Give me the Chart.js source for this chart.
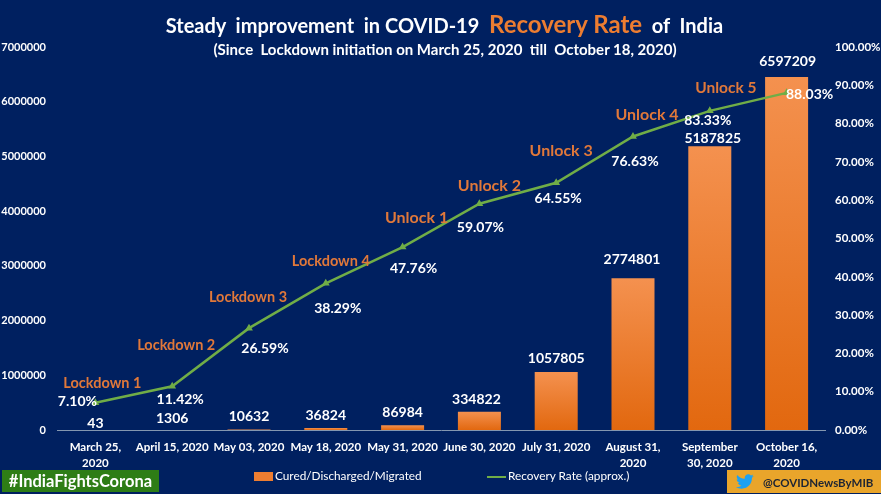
<!DOCTYPE html>
<html>
<head>
<meta charset="utf-8">
<title>Recovery Rate of India</title>
<script src="https://cdn.jsdelivr.net/npm/chart.js@4"></script>
<style>
  html, body { margin: 0; padding: 0; background: #fff; }
  #frame { position: relative; width: 881px; height: 494px; background: #002060; overflow: hidden; font-family: Lato, sans-serif; }
  #chart { position: absolute; left: 0; top: 0; }
  .title { position: absolute; left: 0; width: 889px; top: 9px; text-align: center; color: #fff; font-weight: bold; font-size: 20px; line-height: 30px; white-space: pre; }
  .title span { color: #ED7D31; font-size: 24px; }
  .subtitle { position: absolute; left: 0; width: 890px; top: 40px; text-align: center; color: #fff; font-weight: bold; font-size: 15px; line-height: 18px; white-space: pre; }
  .tag { position: absolute; left: 2px; top: 470px; width: 157px; height: 22px; background: #2E7D16; color: #fff; font-weight: bold; font-size: 16.5px; line-height: 22px; text-align: center; }
  .handle { position: absolute; left: 727px; top: 470px; width: 154px; height: 23px; background: #E9A52B; color: #1d2433; font-weight: bold; font-size: 11.5px; line-height: 25px; padding-left: 36px; box-sizing: border-box; }
  .handle svg { position: absolute; left: 8px; top: 2px; }
  #legend span { position: absolute; top: 468px; color: #fff; font-size: 11.8px; line-height: 16px; white-space: nowrap; }
  #legend i { position: absolute; display: block; }
</style>
</head>
<body>
<div id="frame">
  <canvas id="chart" width="881" height="494"></canvas>
  <div class="title">Steady  improvement  in COVID-19  <span>Recovery Rate</span>  of  India</div>
  <div class="subtitle">(Since  Lockdown initiation on March 25, 2020  till  October 18, 2020)</div>
  <div id="legend"></div>
  <div class="tag">#IndiaFightsCorona</div>
  <div class="handle">
    <svg width="20" height="19" viewBox="0 0 24 24"><path fill="#1DA1F2" d="M23 5c-.8.4-1.700.6-2.600.7.900-.600 1.600-1.400 2-2.500-.900.500-1.900.900-2.900 1.100C18.600 3.400 17.400 2.900 16.200 2.900c-2.500 0-4.600 2.100-4.600 4.600 0 .400 0 .700.100 1C7.900 8.300 4.500 6.500 2.200 3.700c-.400.700-.600 1.500-.600 2.300 0 1.600.800 3 2 3.800-.700 0-1.400-.200-2.100-.600v.100c0 2.200 1.600 4.100 3.700 4.500-.700.200-1.400.200-2.100.100.600 1.800 2.300 3.200 4.300 3.200-1.600 1.200-3.600 2-5.700 2-.400 0-.700 0-1.100-.100C2.700 20.300 5.100 21 7.700 21c8.500 0 13.100-7 13.100-13.100v-.600C21.700 6.700 22.400 5.900 23 5z"/></svg>
    @COVIDNewsByMIB
  </div>
</div>
<script>
const categories = [
  ['March 25,', '2020'], 'April 15, 2020', 'May 03, 2020', 'May 18, 2020', 'May 31, 2020',
  'June 30, 2020', 'July 31, 2020', ['August 31,', '2020'], ['September', '30, 2020'], ['October 16,', '2020']
];
// bar heights as drawn in the picture, the last bar stands a bit lower than its printed number
const curedValues = [43, 1306, 10632, 36824, 86984, 334822, 1057805, 2774801, 5187825, 6450000];
const curedLabels = ['43', '1306', '10632', '36824', '86984', '334822', '1057805', '2774801', '5187825', '6597209'];
const recoveryRate = [7.10, 11.42, 26.59, 38.29, 47.76, 59.07, 64.55, 76.63, 83.33, 88.03];
const phaseLabels = ['Lockdown 1', 'Lockdown 2', 'Lockdown 3', 'Lockdown 4', 'Unlock 1', 'Unlock 2', 'Unlock 3', 'Unlock 4', 'Unlock 5'];
const leftTicks = [0, 1000000, 2000000, 3000000, 4000000, 5000000, 6000000, 7000000];
const seriesNames = ['Cured/Discharged/Migrated', 'Recovery Rate (approx.)'];

// label nudges relative to the marks
const barNudge = [[0, -7], [0, -11], [0, -13], [0, -13], [0, -13], [-3, -12], [0, -14], [-1, -19], [3, -8], [1, -16]];
const rateNudge = [[-18, -1], [8, 13], [16, 20], [12, 25], [11, 21], [1, 24], [2, 16], [2, 25], [-2, 10], [23, 2]];
const phaseNudge = [[7, -19], [4, -41], [-1, -31], [5, -22], [14, -29], [10, -18], [5, -32], [14, -22], [16, -23]];
const phaseFontSizes = [14.5, 14.5, 14.5, 14.5, 16, 16, 16, 16, 15.5];

const FONT = 'Lato, sans-serif';

const labelPlugin = {
  id: 'labelPlugin',
  afterDatasetsDraw(chart) {
    const ctx = chart.ctx;
    const bars = chart.getDatasetMeta(0).data;
    const pts = chart.getDatasetMeta(1).data;
    ctx.save();
    ctx.textAlign = 'center';
    ctx.textBaseline = 'middle';

    ctx.fillStyle = '#fff';
    ctx.font = 'bold 14px ' + FONT;
    bars.forEach((b, i) => ctx.fillText(curedLabels[i], b.x + barNudge[i][0], b.y + barNudge[i][1]));

    pts.forEach((p, i) => ctx.fillText(recoveryRate[i].toFixed(2) + '%', p.x + rateNudge[i][0], p.y + rateNudge[i][1]));

    ctx.fillStyle = '#E0783A';
    phaseLabels.forEach((t, i) => {
      ctx.font = 'bold ' + phaseFontSizes[i] + 'px ' + FONT;
      ctx.fillText(t, pts[i].x + phaseNudge[i][0], pts[i].y + phaseNudge[i][1]);
    });
    ctx.restore();
  }
};

new Chart(document.getElementById('chart'), {
  type: 'bar',
  plugins: [labelPlugin],
  data: {
    labels: categories,
    datasets: [
      {
        label: seriesNames[0],
        data: curedValues,
        yAxisID: 'y',
        order: 2,
        barPercentage: 0.56,
        categoryPercentage: 1,
        backgroundColor(c) {
          const { chart, dataIndex } = c;
          if (!chart.chartArea) return '#ED7D31';
          const y = chart.scales.y;
          const g = chart.ctx.createLinearGradient(0, y.getPixelForValue(curedValues[dataIndex]), 0, y.getPixelForValue(0));
          g.addColorStop(0, '#F4914F');
          g.addColorStop(1, '#E2680F');
          return g;
        }
      },
      {
        type: 'line',
        label: seriesNames[1],
        data: recoveryRate,
        yAxisID: 'y1',
        order: 1,
        borderColor: '#70AD47',
        backgroundColor: '#70AD47',
        borderWidth: 2.5,
        pointStyle: 'triangle',
        pointRadius: 2,
        tension: 0
      }
    ]
  },
  options: {
    responsive: false,
    animation: false,
    layout: { padding: { top: 47 } },
    plugins: {
      tooltip: { enabled: false },
      legend: { display: false }
    },
    scales: {
      x: {
        grid: { display: false, drawTicks: false },
        border: { color: '#8497B0', width: 1 },
        afterFit(s) { s.height = 64; },
        ticks: { color: '#fff', font: { family: FONT, size: 11.5, weight: 'bold', lineHeight: 1.35 }, maxRotation: 0, autoSkip: false, padding: 10 }
      },
      y: {
        position: 'left',
        min: 0,
        max: 7000000,
        grid: { display: false, drawTicks: false },
        border: { display: false },
        afterFit(s) { s.width = 57; },
        afterBuildTicks(s) { s.ticks = leftTicks.map(v => ({ value: v })); },
        ticks: { color: '#fff', font: { family: FONT, size: 11, weight: 'bold' }, padding: 11, callback: v => String(v) }
      },
      y1: {
        position: 'right',
        min: 0,
        max: 100,
        grid: { display: false, drawOnChartArea: false, drawTicks: false },
        border: { display: false },
        afterFit(s) { s.width = 56; },
        ticks: { color: '#fff', font: { family: FONT, size: 11.5, weight: 'bold' }, stepSize: 10, padding: 10, callback: v => v.toFixed(2) + '%' }
      }
    }
  }
});

// legend sits wider apart than the built in one allows
document.getElementById('legend').innerHTML =
  `<i style="left:254px;top:472px;width:19px;height:9px;background:#ED7D31"></i>` +
  `<span style="left:275px">${seriesNames[0]}</span>` +
  `<i style="left:487px;top:476px;width:19px;height:2px;background:#70AD47"></i>` +
  `<span style="left:508px">${seriesNames[1]}</span>`;
</script>
</body>
</html>
